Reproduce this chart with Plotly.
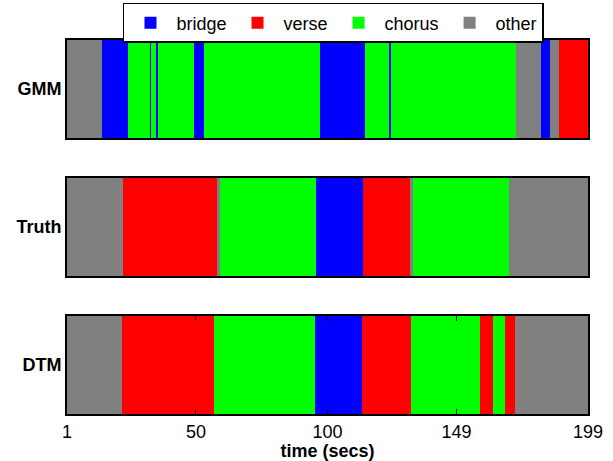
import plotly.graph_objects as go

labels = ["bridge", "verse", "chorus", "other"]
colors = {"bridge": "#0000FF", "verse": "#FF0000", "chorus": "#00FF00", "other": "#808080"}

row_names = ["GMM", "Truth", "DTM"]

gmm_bounds = [1, 14.4, 24.2, 32.5, 33.0, 34.8, 35.4, 49.3, 53.0, 97.0, 114.4, 123.5, 124.0,
              171.7, 181.3, 184.6, 188.0, 199]
gmm_labels = ["other", "bridge", "chorus", "bridge", "chorus", "bridge", "chorus", "bridge",
              "chorus", "bridge", "chorus", "bridge", "chorus", "other", "bridge", "other", "verse"]

truth_bounds = [1, 22.4, 58.0, 59.2, 95.6, 113.5, 131.4, 132.4, 169.1, 199]
truth_labels = ["other", "verse", "other", "chorus", "bridge", "verse", "other", "chorus", "other"]

dtm_bounds = [1, 22.0, 57.0, 95.4, 113.1, 131.7, 158.1, 163.0, 167.5, 171.2, 199]
dtm_labels = ["other", "verse", "chorus", "bridge", "verse", "chorus", "verse", "chorus", "verse", "other"]

tick_vals = [1, 50, 100, 149, 199]
x_title = "time (secs)"

FONT = "Liberation Sans, Arial, sans-serif"
rows = [(gmm_bounds, gmm_labels), (truth_bounds, truth_labels), (dtm_bounds, dtm_labels)]
domains = [[0.6748, 0.9144], [0.3374, 0.577], [0.0, 0.2396]]

fig = go.Figure()
for r, (bounds, labs) in enumerate(rows):
    ax = "" if r == 0 else str(r + 1)
    for lab in labels:
        starts = [bounds[i] for i in range(len(labs)) if labs[i] == lab]
        lens = [bounds[i + 1] - bounds[i] for i in range(len(labs)) if labs[i] == lab]
        if not starts:
            continue
        fig.add_trace(go.Bar(
            orientation="h", base=starts, x=lens, y=[0] * len(starts), width=1,
            marker=dict(color=colors[lab], line=dict(width=0)),
            name=lab, legendgroup=lab, showlegend=(r == 0),
            xaxis="x" + ax, yaxis="y" + ax, hoverinfo="skip"))

layout = dict(
    width=613, height=461, barmode="overlay", bargap=0,
    margin=dict(l=67, r=25, t=5, b=47, autoexpand=False),
    paper_bgcolor="white", plot_bgcolor="white",
    font=dict(family=FONT, size=18, color="black"),
    showlegend=True,
    legend=dict(orientation="h", x=0.5115, xanchor="center", y=1.005, yanchor="top",
                bordercolor="black", borderwidth=1.5, bgcolor="white",
                itemwidth=42,
                font=dict(size=18), traceorder="normal"),
)
for r in range(3):
    ax = "" if r == 0 else str(r + 1)
    last = (r == 2)
    layout["xaxis" + ax] = dict(
        domain=[0, 1], anchor="y" + ax, range=[1, 199], showgrid=False, zeroline=False,
        showline=True, linecolor="black", linewidth=2, automargin=False,
        mirror="ticks" if last else True,
        tickvals=tick_vals, ticks="inside" if last else "", ticklen=5, tickcolor="black",
        showticklabels=last, tickfont=dict(size=18),
        title=dict(text="<b>" + x_title + "</b>", font=dict(size=18), standoff=0) if last else None,
        fixedrange=True)
    layout["yaxis" + ax] = dict(
        domain=domains[r], anchor="x" + ax, range=[-0.5, 0.5], showgrid=False, zeroline=False,
        showline=True, linecolor="black", linewidth=2, mirror=True, automargin=False,
        tickvals=[0], ticktext=["<b>" + row_names[r] + "</b>"], ticks="",
        tickfont=dict(size=18), fixedrange=True)
fig.update_layout(**layout)
fig.write_html("out.html", config={"displayModeBar": False},
               post_script="document.body.style.margin='0';document.body.style.overflow='hidden';")
